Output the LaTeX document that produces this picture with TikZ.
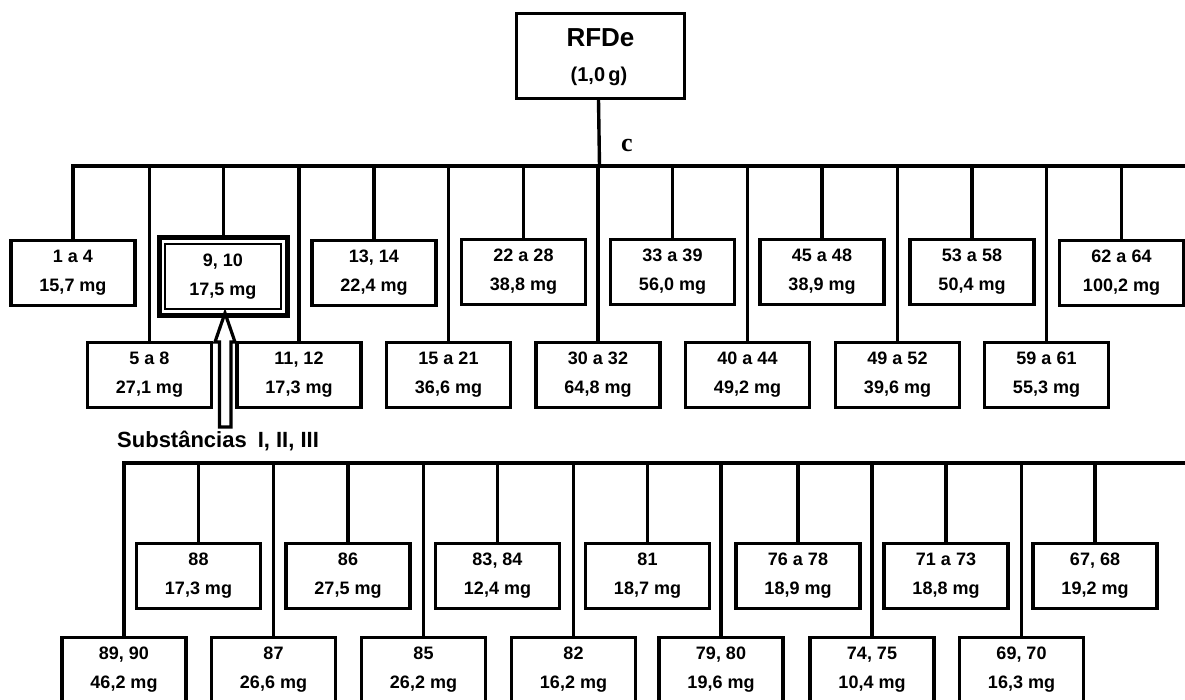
\documentclass[tikz,border=0pt]{standalone}
\usepackage{fontspec}
\setmainfont{Liberation Sans}
\newfontfamily\serifbold{Liberation Serif}
\begin{document}
\begin{tikzpicture}[x=1pt,y=-1pt,
  box/.style={draw,line width=3.2pt,minimum width=124pt,minimum height=65pt,inner sep=0pt,align=center,
    font=\bfseries\fontsize{18}{29}\selectfont},
  bus/.style={line width=3.5pt,line join=miter,line cap=rect},
  drop/.style={line width=3.4pt}]
\useasboundingbox (0,0) rectangle (1185,700);
\clip (0,0) rectangle (1185,700);
\coordinate (busA) at (0,166);
\coordinate (busAr) at (1195,166);
\coordinate (busB) at (0,463);
\coordinate (busBr) at (1195,463);
% root
\node[draw,line width=3.2pt,minimum width=168pt,minimum height=85pt,inner sep=0pt] (rfde) at (600.5,56) {};
\node[font=\bfseries\fontsize{26}{30}\selectfont] (rfdet) at (600.5,38) {RFDe};
\node[font=\bfseries\fontsize{20}{24}\selectfont] (rfdem) at (599,76) {(1,0\,g)};
\node[font=\serifbold\bfseries\fontsize{26}{30}\selectfont] (clab) at (627,145) {c};
% first section, upper row
\node[box] (u1) at (73,273) {1 a 4\\15,7 mg};
\node[draw,line width=2pt,minimum width=116.8pt,minimum height=65.3pt,inner sep=0pt,align=center,
  font=\bfseries\fontsize{18}{29}\selectfont] (b910) at (222.9,276.2) {9, 10\\17,5 mg};
\node[draw,line width=5.5pt,minimum width=128pt,minimum height=78pt,inner sep=0pt] (b910out) at (223.5,276.5) {};
\node[box] (u3) at (374,273) {13, 14\\22,4 mg};
\node[box] (u4) at (523.5,272) {22 a 28\\38,8 mg};
\node[box] (u5) at (672.5,272) {33 a 39\\56,0 mg};
\node[box] (u6) at (822,272) {45 a 48\\38,9 mg};
\node[box] (u7) at (972,272) {53 a 58\\50,4 mg};
\node[box] (u8) at (1121.5,273) {62 a 64\\100,2 mg};
% first section, lower row
\node[box] (l1) at (149.5,375) {5 a 8\\27,1 mg};
\node[box] (l2) at (299,375) {11, 12\\17,3 mg};
\node[box] (l3) at (448.5,375) {15 a 21\\36,6 mg};
\node[box] (l4) at (598,375) {30 a 32\\64,8 mg};
\node[box] (l5) at (747.5,375) {40 a 44\\49,2 mg};
\node[box] (l6) at (897.5,375) {49 a 52\\39,6 mg};
\node[box] (l7) at (1046.5,375) {59 a 61\\55,3 mg};
% connectors first section
\draw[drop] ([xshift=-2pt]rfde.south) -- ([xshift=-1pt]rfde.south |- busA);
\draw[bus] (u1.north) |- (busAr);
\foreach \n in {b910out,u3,u4,u5,u6,u7,u8,l1,l2,l3,l4,l5,l6,l7}
  \draw[drop] (\n.north) -- (\n.north |- busA);
% substances label and arrow
\node[anchor=west,inner sep=0pt,font=\bfseries\fontsize{22}{26}\selectfont] (subs) at (117,441) {Substâncias\hspace{0.5em}I, II, III};
\draw[line width=3.2pt,fill=white,line join=miter] (225,313) -- (235,342) -- (231,342) -- (231,427) -- (219.5,427) -- (219.5,342) -- (215,342) -- cycle;
% second section, upper row
\node[box] (m1) at (198.5,576) {88\\17,3 mg};
\node[box] (m2) at (348,576) {86\\27,5 mg};
\node[box] (m3) at (497.5,576) {83, 84\\12,4 mg};
\node[box] (m4) at (647.5,576) {81\\18,7 mg};
\node[box] (m5) at (798,576) {76 a 78\\18,9 mg};
\node[box] (m6) at (946,576) {71 a 73\\18,8 mg};
\node[box] (m7) at (1095,576) {67, 68\\19,2 mg};
% second section, lower row
\node[box] (n1) at (124,670) {89, 90\\46,2 mg};
\node[box] (n2) at (273.5,670) {87\\26,6 mg};
\node[box] (n3) at (423.5,670) {85\\26,2 mg};
\node[box] (n4) at (573.5,670) {82\\16,2 mg};
\node[box] (n5) at (721,670) {79, 80\\19,6 mg};
\node[box] (n6) at (872,670) {74, 75\\10,4 mg};
\node[box] (n7) at (1021.5,670) {69, 70\\16,3 mg};
% connectors second section
\draw[bus] (n1.north) |- (busBr);
\foreach \n in {m1,m2,m3,m4,m5,m6,m7,n2,n3,n4,n5,n6,n7}
  \draw[drop] (\n.north) -- (\n.north |- busB);
\end{tikzpicture}
\end{document}
